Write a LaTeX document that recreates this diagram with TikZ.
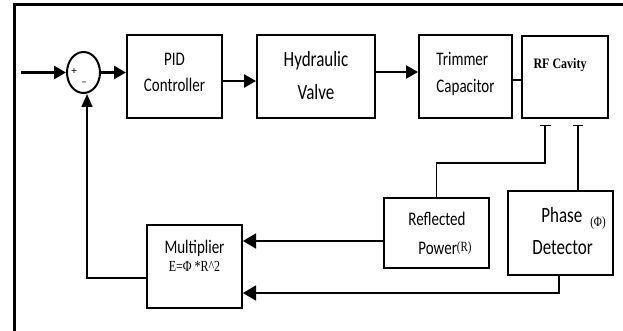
\documentclass[tikz,border=0pt]{standalone}
\usepackage{graphicx}
\usepackage{fontspec}
\setmainfont{Carlito}
\newfontfamily\serif{Liberation Serif}
\usetikzlibrary{arrows.meta,shapes.geometric}
% stacked, vertically stretched block text; #1 lifts it, #2 shifts it right
\newcommand\blocktext[4]{\hspace{#2}\raisebox{#1}[\height][\depth]{\scalebox{1}[1.28]{\begin{tabular}{@{}#3@{}}#4\end{tabular}}}\hspace{-#2}}
\begin{document}
\begin{tikzpicture}[x=1pt,y=-1pt,
  block/.style={draw, line width=2pt, inner sep=0pt, align=center},
  heavy/.style={line width=2.6pt, -{Triangle[length=12pt,width=13pt]}},
  medium/.style={line width=1.8pt, -{Triangle[length=13pt,width=15pt]}},
  thin/.style={line width=1.4pt}]
\useasboundingbox (0,0) rectangle (623,331);
\clip (0,0) rectangle (623,331);

% outer frame
\draw[line width=3pt] (14.5,345) -- (14.5,5) -- (640,5);

% summing junction
\node[draw, ellipse, line width=2pt, minimum width=33pt, minimum height=41pt, inner sep=0pt] (sum) at (83.5,72.5) {};
\node[font=\fontsize{11}{11}\selectfont, inner sep=0pt] (plus) at (74,71) {+};
\node[font=\fontsize{11}{11}\selectfont, inner sep=0pt] (minus) at (84,84) {–};

% forward path
\node[block, minimum width=95pt, minimum height=83pt, font=\fontsize{15}{20}\selectfont] (pid) at (174.5,76.5)
  {\blocktext{3pt}{0pt}{c}{PID\\Controller}};
\node[block, minimum width=118pt, minimum height=83pt, font=\fontsize{17}{25.5}\selectfont] (hyd) at (316,76.5)
  {\blocktext{0pt}{0pt}{c}{Hydraulic\\Valve}};
\node[block, minimum width=93pt, minimum height=83pt, font=\fontsize{15}{21}\selectfont] (trim) at (465.5,76.5)
  {\blocktext{3pt}{0pt}{l}{Trimmer\\Capacitor}};
\node[block, minimum width=86pt, minimum height=82pt] (rf) at (565,77) {};
\node[inner sep=0pt, font=\serif\bfseries\fontsize{12}{12}\selectfont] (rflabel) at (560,65.5) {\scalebox{1}[1.2]{RF Cavity}};

% feedback path
\node[block, minimum width=105pt, minimum height=70pt, font=\fontsize{15}{22.5}\selectfont] (refl) at (436.5,233)
  {\blocktext{-1pt}{3.5pt}{l}{Reflected\\\hspace{10pt}Power{\serif\fontsize{11}{11}\selectfont\raisebox{2pt}{(R)}}}};
\node[block, minimum width=105pt, minimum height=84pt, font=\fontsize{17}{25.5}\selectfont] (phase) at (560.5,233)
  {\blocktext{1pt}{8.5pt}{l}{\hspace{9pt}Phase\hspace{8pt}{\serif\fontsize{11}{11}\selectfont\raisebox{-3pt}{(Φ)}}\\Detector}};
\node[block, minimum width=95pt, minimum height=83pt, font=\fontsize{15}{14}\selectfont] (mult) at (194.5,266.5)
  {\blocktext{8pt}{0pt}{c}{Multiplier\\{\serif\fontsize{12}{12}\selectfont E=Φ *R\^{}2}}};

% pick-off points under the cavity
\coordinate (in) at (21,72.5);
\coordinate (tapR) at (545,125);
\coordinate (tapP) at (578,125);

% forward connectors
\draw[heavy] (in) -- (sum.west);
\draw[heavy] (sum.east) -- (pid.west |- sum.east);
\draw[heavy] (pid.east |- 0,81) -- (hyd.west |- 0,81);
\draw[heavy] (hyd.east |- 0,72) -- (trim.west |- 0,72);
\draw[line width=2.6pt] (trim.east |- 0,80) -- (rf.west |- 0,80);

% measurement connectors
\draw[thin, {Bar[width=11pt]}-] (tapR) -- ++(0,38) -| (refl.north);
\draw[thin, {Bar[width=10pt]}-] (tapP) -- (tapP |- phase.north);
\draw[medium] (refl.west |- 0,241) -- (mult.east |- 0,241);
\draw[medium, line width=1.5pt] (phase.south -| 559,0) |- (mult.east |- 0,293);
\draw[thin, -{Triangle[length=13pt,width=11pt]}] (mult.west |- 0,278) -| (sum.south -| 87,0);
\end{tikzpicture}
\end{document}
